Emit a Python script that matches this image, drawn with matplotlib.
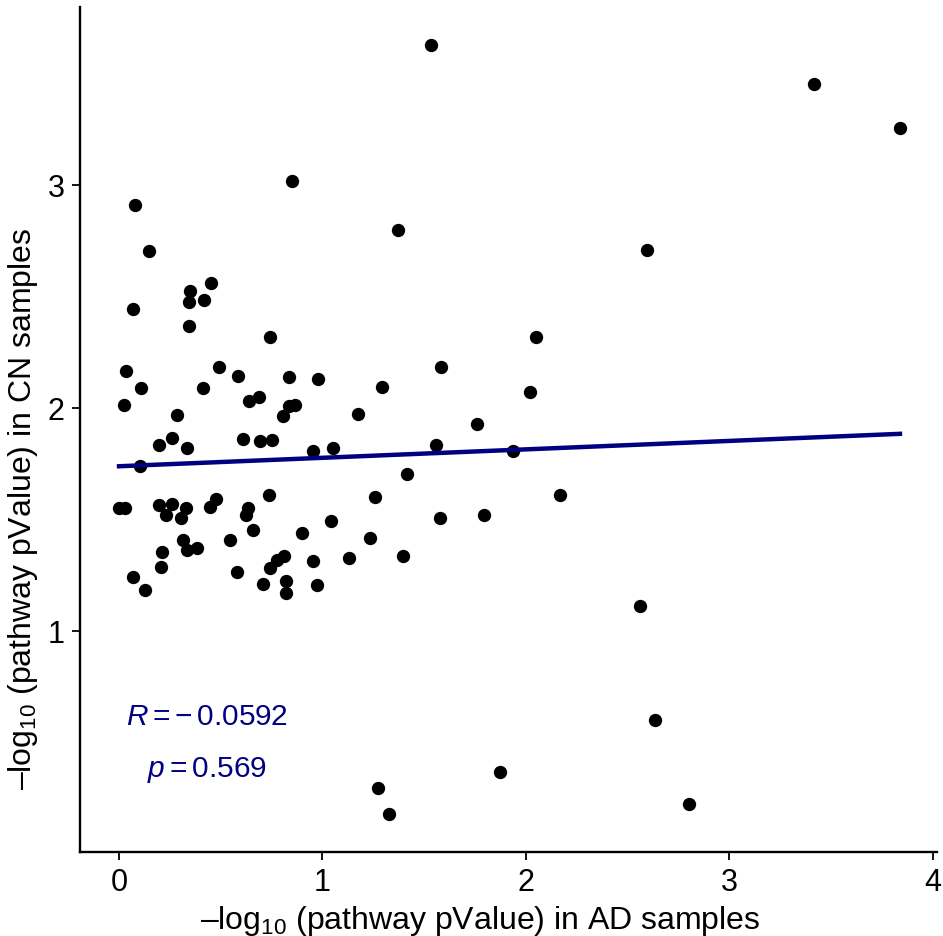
import numpy as np
import matplotlib
matplotlib.use("Agg")
import matplotlib.pyplot as plt

plt.rcParams['font.family'] = ['Liberation Sans', 'DejaVu Sans']
plt.rcParams['mathtext.fontset'] = 'custom'
plt.rcParams['mathtext.rm'] = 'Liberation Sans'
plt.rcParams['mathtext.it'] = 'Liberation Sans:italic'

# -log10 pathway p-values, AD (x) vs CN (y)
ad_vals = [1.533, 3.415, 3.838, 0.850, 0.079, 1.371, 0.147, 2.595, 0.452, 0.349,
           0.416, 0.344, 0.067, 0.345, 0.743, 2.048, 0.491, 1.582, 0.033, 0.585,
           0.837, 0.978, 1.292, 0.107, 0.411, 2.020, 0.689, 0.639, 0.026, 0.837,
           0.865, 1.176, 0.286, 0.804, 1.759, 0.262, 0.197, 0.336, 0.608, 0.694,
           0.753, 0.955, 1.050, 1.559, 1.935, 0.102, 1.415, 0.000, 0.027, 0.197,
           0.262, 0.329, 0.231, 0.305, 0.477, 0.449, 0.634, 0.623, 0.737, 0.656,
           0.547, 0.313, 0.336, 0.383, 0.210, 0.206, 0.069, 0.126, 0.578, 0.709,
           0.743, 0.778, 0.811, 0.819, 0.822, 0.899, 0.955, 0.971, 1.042, 1.131,
           1.258, 1.235, 1.396, 1.577, 1.792, 2.169, 2.560, 2.634, 1.872, 1.273,
           1.327, 2.801]
cn_vals = [3.628, 3.453, 3.256, 3.018, 2.908, 2.798, 2.704, 2.709, 2.561, 2.522,
           2.486, 2.475, 2.443, 2.369, 2.318, 2.320, 2.185, 2.185, 2.166, 2.143,
           2.138, 2.130, 2.096, 2.088, 2.088, 2.073, 2.049, 2.030, 2.015, 2.009,
           2.015, 1.973, 1.969, 1.963, 1.930, 1.867, 1.835, 1.822, 1.862, 1.853,
           1.857, 1.809, 1.821, 1.835, 1.809, 1.740, 1.704, 1.552, 1.552, 1.566,
           1.568, 1.552, 1.520, 1.505, 1.593, 1.555, 1.553, 1.519, 1.609, 1.454,
           1.407, 1.407, 1.363, 1.374, 1.353, 1.288, 1.241, 1.184, 1.265, 1.212,
           1.281, 1.317, 1.335, 1.226, 1.170, 1.441, 1.315, 1.205, 1.493, 1.326,
           1.600, 1.417, 1.335, 1.505, 1.522, 1.609, 1.112, 0.601, 0.368, 0.296,
           0.179, 0.224]

r_text = "$R = -\\,0.0592$"
p_text = "$p = 0.569$"

x = np.array(ad_vals)
y = np.array(cn_vals)

fig = plt.figure(figsize=(9.43, 9.37), dpi=100)
ax = fig.add_axes([0.0848, 0.0896, 0.9088, 0.902])

ax.scatter(x, y, s=92, color='black', linewidths=0, zorder=3)

# linear fit line
slope, icpt = np.polyfit(x, y, 1)
xs = np.array([x.min(), x.max()])
ax.plot(xs, icpt + slope * xs, color='#000080', lw=3.2, zorder=4)

ax.text(0.43, 0.62, r_text, color='#000080', fontsize=21.5, ha='center', va='center')
ax.text(0.43, 0.38, p_text, color='#000080', fontsize=21.5, ha='center', va='center')

ax.set_xlim(-0.192, 4.02)
ax.set_ylim(0.009, 3.798)
ax.set_xticks([0, 1, 2, 3, 4])
ax.set_yticks([1, 2, 3])

for side in ['top', 'right']:
    ax.spines[side].set_visible(False)
for side in ['left', 'bottom']:
    ax.spines[side].set_linewidth(1.7)
ax.tick_params(length=6, width=1.3, labelsize=22, pad=5)

ax.set_xlabel("\u2013log$_{10}$ (pathway pValue) in AD samples", fontsize=23)
ax.set_ylabel("\u2013log$_{10}$ (pathway pValue) in CN samples", fontsize=23)
ax.xaxis.set_label_coords(0.467, -0.060)
ax.yaxis.set_label_coords(-0.047, 0.407)

fig.savefig("out.png", dpi=100)
